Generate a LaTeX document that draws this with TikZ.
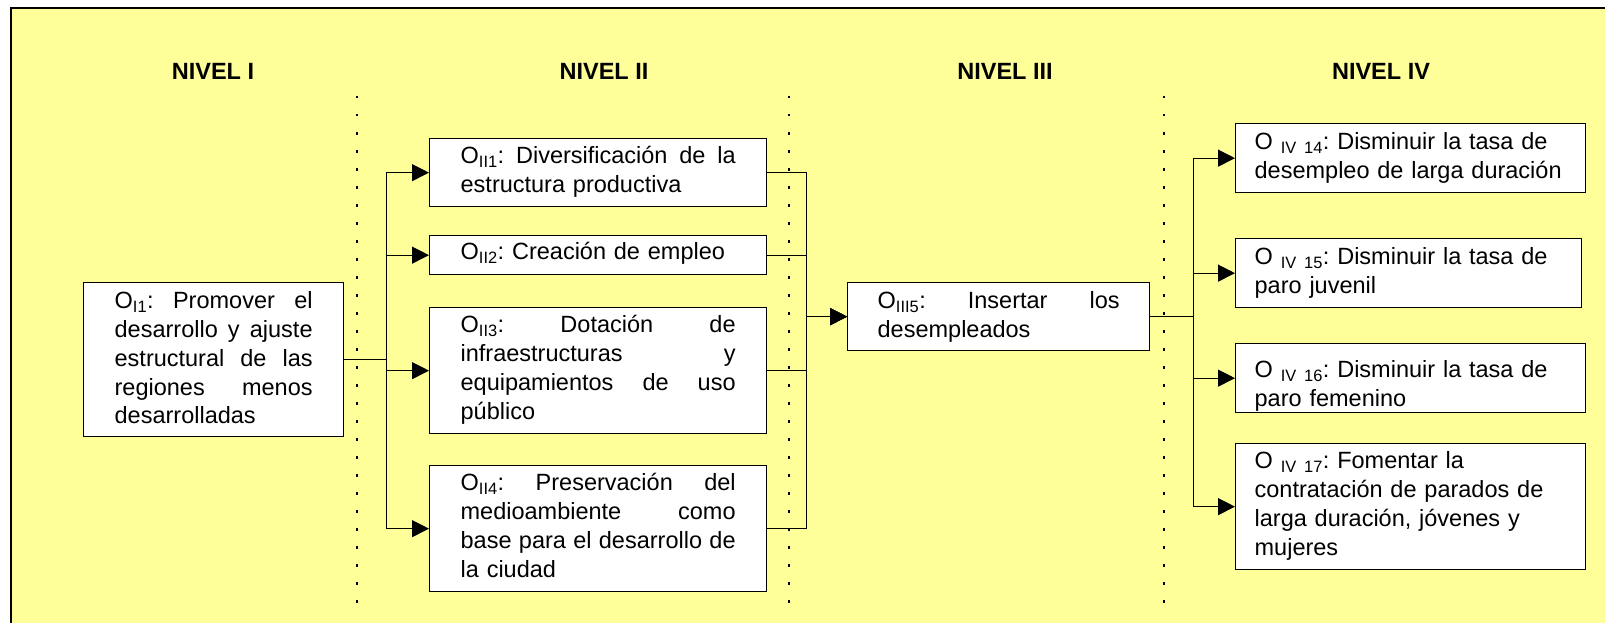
\documentclass[tikz,border=0pt]{standalone}
\usepackage{fontspec}
\setmainfont{Liberation Sans}
\usetikzlibrary{arrows.meta}
\definecolor{fondo}{RGB}{255,255,153}
\tikzset{
  caja/.style={draw, line width=1.3pt, fill=white, anchor=north west,
    inner ysep=0pt, align=left, font=\fontsize{23.5}{28.8}\selectfont\frenchspacing},
  flecha/.style={line width=1.2pt, -{Triangle[length=17pt,width=17pt]}},
  puntos/.style={line width=1.5pt, dash pattern=on 2.5pt off 15.5pt},
  nivel/.style={anchor=base, font=\fontsize{23.5}{28}\selectfont\bfseries}
}
\begin{document}
\begin{tikzpicture}[x=1pt,y=-1pt]
      \useasboundingbox (0,0) rectangle (1605,623);
      \draw[fill=fondo, line width=1.5pt] (11,8) rectangle (1625,640);
      % niveles
      \node[nivel] (n1) at (213,80) {NIVEL I};
      \node[nivel] (n2) at (604,80) {NIVEL II};
      \node[nivel] (n3) at (1005,80) {NIVEL III};
      \node[nivel] (n4) at (1381,80) {NIVEL IV};
      \draw[puntos] (357,96) -- (357,604);
      \draw[puntos] (789,96) -- (789,604);
      \draw[puntos] (1164,96) -- (1164,604);
      % nivel I
      \node[caja, text width=198pt, inner xsep=31pt, text height=26pt, text depth=128pt]
        (i1) at (83,282) {O\textsubscript{I1}:\hfill Promover\hfill el\\
        desarrollo\hfill y\hfill ajuste\\ estructural\hfill de\hfill las\\
        regiones\hfill menos\\ desarrolladas};
      % nivel II
      \node[caja, text width=275pt, inner xsep=31pt, text height=25pt, text depth=43pt]
        (ii1) at (429,138) {O\textsubscript{II1}:\hfill Diversificación\hfill de\hfill la\\
        estructura productiva};
      \node[caja, text width=275pt, inner xsep=31pt, text height=24pt, text depth=15pt]
        (ii2) at (429,235) {O\textsubscript{II2}: Creación de empleo};
      \node[caja, text width=275pt, inner xsep=31pt, text height=25pt, text depth=101pt]
        (ii3) at (429,307) {O\textsubscript{II3}:\hfill Dotación\hfill de\\
        infraestructuras\hfill y\\ equipamientos\hfill de\hfill uso\\ público};
      \node[caja, text width=275pt, inner xsep=31pt, text height=25pt, text depth=101pt]
        (ii4) at (429,465) {O\textsubscript{II4}:\hfill Preservación\hfill del\\
        medioambiente\hfill como\\ base\hfill para\hfill el\hfill desarrollo\hfill de\\
        la ciudad};
      % nivel III
      \node[caja, text width=242pt, inner xsep=30pt, text height=26pt, text depth=42pt]
        (iii5) at (847,282) {O\textsubscript{III5}:\hfill Insertar\hfill los\\
        desempleados};
      % nivel IV
      \node[caja, text width=312pt, inner xsep=19pt, text height=26pt, text depth=43pt]
        (iv14) at (1235,123) {O \textsubscript{IV 14}: Disminuir la tasa de\\
        desempleo de larga duración};
      \node[caja, text width=308pt, inner xsep=19pt, text height=26pt, text depth=43pt]
        (iv15) at (1235,238) {O \textsubscript{IV 15}: Disminuir la tasa de\\
        paro juvenil};
      \node[caja, text width=312pt, inner xsep=19pt, text height=34pt, text depth=35pt]
        (iv16) at (1235,343) {O \textsubscript{IV 16}: Disminuir la tasa de\\
        paro femenino};
      \node[caja, text width=312pt, inner xsep=19pt, text height=25pt, text depth=101pt]
        (iv17) at (1235,443) {O \textsubscript{IV 17}: Fomentar la\\
        contratación de parados de\\ larga duración, jóvenes y\\ mujeres};
      \begin{scope}[flecha]
        \draw (i1.east) -- ++(42,0) |- (ii1.west);
        \draw (i1.east) -- ++(42,0) |- (ii2.west);
        \draw (i1.east) -- ++(42,0) |- (ii3.west);
        \draw (i1.east) -- ++(42,0) |- (ii4.west);
        \draw (ii1.east) -- ++(39,0) |- (iii5.west);
        \draw (ii2.east) -- ++(39,0) |- (iii5.west);
        \draw (ii3.east) -- ++(39,0) |- (iii5.west);
        \draw (ii4.east) -- ++(39,0) |- (iii5.west);
        \draw (iii5.east) -- ++(43,0) |- (iv14.west);
        \draw (iii5.east) -- ++(43,0) |- (iv15.west);
        \draw (iii5.east) -- ++(43,0) |- (iv16.west);
        \draw (iii5.east) -- ++(43,0) |- (iv17.west);
      \end{scope}
    \end{tikzpicture}
\end{document}
